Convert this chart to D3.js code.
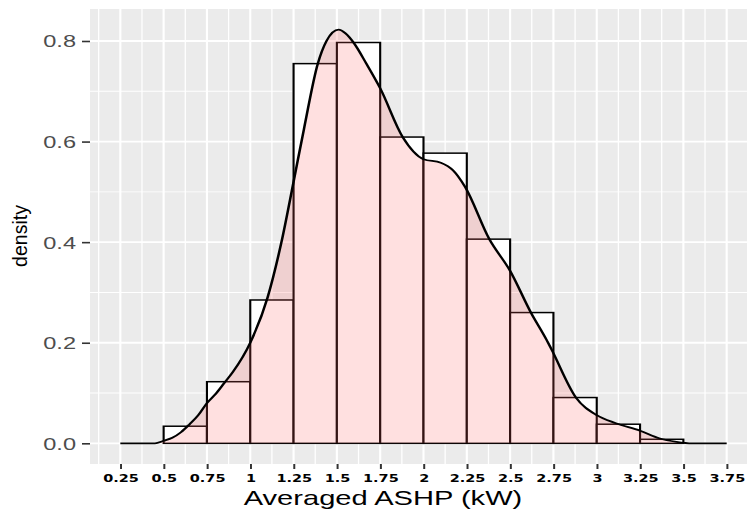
<!DOCTYPE html>
<html>
<head>
<meta charset="utf-8">
<script src="https://cdn.jsdelivr.net/npm/d3@7"></script>
<style>
  body { margin: 0; background: #fff; }
  svg { display: block; }
</style>
</head>
<body>
<div id="chart"></div>
<script>
var width = 747,
    height = 510,
    sx = 1.42;   // the picture is stretched sideways

// histogram, bins of 0.25 kW
var binStart = [0.5, 0.75, 1, 1.25, 1.5, 1.75, 2, 2.25, 2.5, 2.75, 3, 3.25];
var binDensity = [0.034, 0.1225, 0.285, 0.755, 0.797, 0.609, 0.577, 0.406, 0.26, 0.091, 0.038, 0.008];
var binWidth = 0.25;

// density curve
var densX = [0.25, 0.45, 0.5, 0.55, 0.6, 0.65, 0.7, 0.75, 0.8, 0.85, 0.9, 1, 1.1, 1.18, 1.25, 1.31,
             1.39, 1.44, 1.51, 1.55, 1.6, 1.67, 1.75, 1.88, 2, 2.1, 2.17, 2.24, 2.38, 2.5, 2.62, 2.71,
             2.74, 2.88, 3, 3.11, 3.25, 3.36, 3.46, 3.55, 3.75];
var densY = [0, 0, 0.005, 0.011, 0.022, 0.038, 0.056, 0.08, 0.098, 0.12, 0.142, 0.2, 0.29, 0.4, 0.52, 0.625,
             0.755, 0.8, 0.8225, 0.815, 0.795, 0.755, 0.706, 0.609, 0.565, 0.558, 0.543, 0.51, 0.406, 0.343, 0.26, 0.206,
             0.186, 0.091, 0.056, 0.04, 0.025, 0.01, 0.003, 0, 0];

var xTicks = [0.25, 0.5, 0.75, 1, 1.25, 1.5, 1.75, 2, 2.25, 2.5, 2.75, 3, 3.25, 3.5, 3.75];
var xTickLabels = ["0.25", "0.5", "0.75", "1", "1.25", "1.5", "1.75", "2", "2.25", "2.5", "2.75", "3", "3.25", "3.5", "3.75"];
var yTicks = [0, 0.2, 0.4, 0.6, 0.8];
var yTickLabels = ["0.0", "0.2", "0.4", "0.6", "0.8"];

var panel = {left: 90, right: 757, top: 9, bottom: 464};

var svg = d3.select("#chart").append("svg")
    .attr("width", width)
    .attr("height", height);

svg.append("rect").attr("width", width).attr("height", height).attr("fill", "#fff");

var g = svg.append("g").attr("transform", "scale(" + sx + ",1)");

var xPad = (3.75 - 0.25) * 0.05;
var x = d3.scaleLinear()
    .domain([0.25 - xPad, 3.75 + xPad])
    .range([panel.left / sx, panel.right / sx]);

var yMax = d3.max(densY);
var y = d3.scaleLinear()
    .domain([-yMax * 0.05, yMax * 1.05])
    .range([panel.bottom, panel.top]);

// panel
g.append("rect")
    .attr("x", x.range()[0])
    .attr("y", panel.top)
    .attr("width", x.range()[1] - x.range()[0])
    .attr("height", panel.bottom - panel.top)
    .attr("fill", "#EBEBEB");

var plot = g.append("g");

// minor grid
var xMinor = xTicks.map(function(d) { return d - 0.125; }).concat([3.875]);
plot.selectAll(".vminor").data(xMinor).enter().append("line")
    .attr("x1", function(d) { return x(d); }).attr("x2", function(d) { return x(d); })
    .attr("y1", panel.top).attr("y2", panel.bottom)
    .attr("stroke", "#fff").attr("stroke-width", 0.9);
plot.selectAll(".hminor").data([0.1, 0.3, 0.5, 0.7]).enter().append("line")
    .attr("x1", x.range()[0]).attr("x2", x.range()[1])
    .attr("y1", function(d) { return y(d); }).attr("y2", function(d) { return y(d); })
    .attr("stroke", "#fff").attr("stroke-width", 0.9);

// major grid
plot.selectAll(".vmajor").data(xTicks).enter().append("line")
    .attr("x1", function(d) { return x(d); }).attr("x2", function(d) { return x(d); })
    .attr("y1", panel.top).attr("y2", panel.bottom)
    .attr("stroke", "#fff").attr("stroke-width", 1.5);
plot.selectAll(".hmajor").data(yTicks).enter().append("line")
    .attr("x1", x.range()[0]).attr("x2", x.range()[1])
    .attr("y1", function(d) { return y(d); }).attr("y2", function(d) { return y(d); })
    .attr("stroke", "#fff").attr("stroke-width", 1.8);

// bars
plot.selectAll(".bar").data(binStart).enter().append("rect")
    .attr("x", function(d) { return x(d); })
    .attr("width", function(d) { return x(d + binWidth) - x(d); })
    .attr("y", function(d, i) { return y(binDensity[i]); })
    .attr("height", function(d, i) { return y(0) - y(binDensity[i]); })
    .attr("fill", "#fff")
    .attr("stroke", "#000")
    .attr("stroke-width", 1.5);

var pts = densX.map(function(d, i) { return [d, densY[i]]; });

plot.append("path")
    .datum(pts)
    .attr("fill", "#FF6666")
    .attr("fill-opacity", 0.2)
    .attr("d", d3.area()
        .curve(d3.curveMonotoneX)
        .x(function(d) { return x(d[0]); })
        .y0(y(0))
        .y1(function(d) { return y(d[1]); }));

plot.append("path")
    .datum(pts)
    .attr("fill", "none")
    .attr("stroke", "#000")
    .attr("stroke-width", 1.8)
    .attr("d", d3.line()
        .curve(d3.curveMonotoneX)
        .x(function(d) { return x(d[0]); })
        .y(function(d) { return y(d[1]); }));

// y axis
var yAxis = g.append("g")
    .attr("transform", "translate(" + x.range()[0] + ",0)")
    .call(d3.axisLeft(y).tickValues(yTicks)
        .tickFormat(function(d, i) { return yTickLabels[i]; })
        .tickSize(8 / sx).tickPadding(6 / sx));
yAxis.select(".domain").remove();
yAxis.selectAll(".tick line").attr("stroke", "#333").attr("stroke-width", 1.6);
yAxis.selectAll(".tick text")
    .attr("fill", "#4D4D4D")
    .attr("font-family", "'Liberation Sans', Arial, sans-serif")
    .attr("font-size", 16.6)
    .attr("dy", "0.36em");

// x axis
var xAxis = g.append("g")
    .attr("transform", "translate(0," + panel.bottom + ")")
    .call(d3.axisBottom(x).tickValues(xTicks)
        .tickFormat(function(d, i) { return xTickLabels[i]; })
        .tickSize(5).tickPadding(6));
xAxis.select(".domain").remove();
xAxis.selectAll(".tick line").attr("stroke", "#333").attr("stroke-width", 1.4);
xAxis.selectAll(".tick text")
    .attr("fill", "#000")
    .attr("font-family", "'DejaVu Sans', sans-serif")
    .attr("font-weight", "bold")
    .attr("font-size", 10.2)
    .attr("dy", "0.71em");

// x title
g.append("text")
    .attr("x", 383 / sx)
    .attr("y", 505)
    .attr("text-anchor", "middle")
    .attr("font-family", "'Liberation Sans', Arial, sans-serif")
    .attr("font-size", 20.5)
    .attr("fill", "#000")
    .text("Averaged ASHP (kW)");

// y title, not stretched
svg.append("text")
    .attr("transform", "translate(27,236) rotate(-90)")
    .attr("text-anchor", "middle")
    .attr("font-family", "'Liberation Sans', Arial, sans-serif")
    .attr("font-size", 19.5)
    .attr("fill", "#000")
    .text("density");
</script>
</body>
</html>
